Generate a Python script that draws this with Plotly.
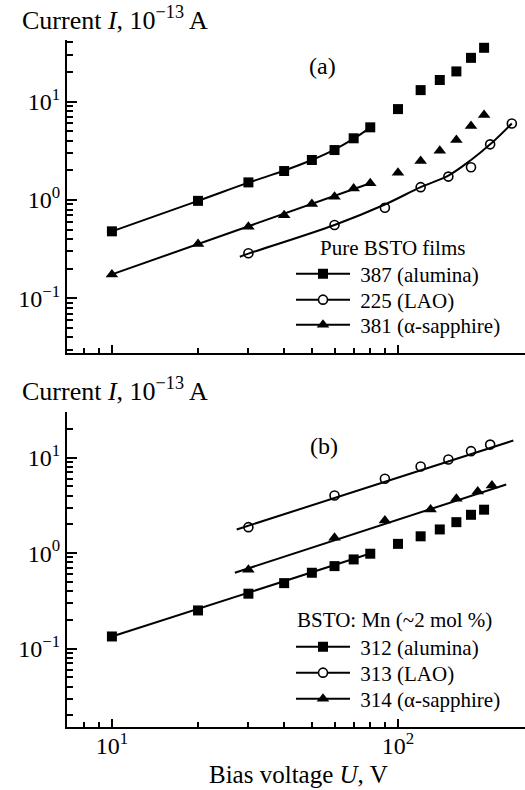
import plotly.graph_objects as go

# ---------------- data ----------------
# (a) pure BSTO films: bias voltage U (V) and current I (1e-13 A)
u_a_387 = [10, 20, 30, 40, 50, 60, 70, 80, 100, 120, 140, 160, 180, 200]
i_a_387 = [0.48, 0.98, 1.51, 1.97, 2.55, 3.22, 4.24, 5.48, 8.4, 13.1, 16.6, 20.3, 27.9, 35.3]
u_a_225 = [30, 60, 90, 120, 150, 180, 210, 250]
i_a_225 = [0.287, 0.557, 0.835, 1.35, 1.73, 2.15, 3.68, 6.0]
u_a_381 = [10, 20, 30, 40, 50, 60, 70, 80, 100, 120, 140, 160, 180, 200]
i_a_381 = [0.175, 0.357, 0.535, 0.70, 0.91, 1.08, 1.31, 1.48, 1.89, 2.49, 3.17, 4.07, 5.65, 7.31]

# fitted curves for (a)
fit_u_a_387 = [10, 20, 30, 40, 50, 60, 70, 80]
fit_i_a_387 = [0.48, 0.98, 1.50, 1.99, 2.55, 3.25, 4.2, 5.45]
fit_u_a_225 = [28, 30, 60, 90, 120, 150, 180, 210, 250]
fit_i_a_225 = [0.265, 0.285, 0.557, 0.9, 1.35, 1.77, 2.55, 3.68, 6.0]
fit_u_a_381 = [10, 80]
fit_i_a_381 = [0.175, 1.48]

# (b) BSTO:Mn films
u_b_312 = [10, 20, 30, 40, 50, 60, 70, 80, 100, 120, 140, 160, 180, 200]
i_b_312 = [0.134, 0.251, 0.376, 0.485, 0.623, 0.731, 0.859, 0.986, 1.25, 1.50, 1.77, 2.11, 2.52, 2.85]
u_b_313 = [30, 60, 90, 120, 150, 180, 210]
i_b_313 = [1.87, 4.02, 6.01, 8.09, 9.57, 11.7, 13.7]
u_b_314 = [30, 60, 90, 130, 160, 190, 213]
i_b_314 = [0.67, 1.45, 2.20, 2.87, 3.71, 4.43, 5.12]

# fitted lines for (b)
fit_u_b_312 = [10, 80]
fit_i_b_312 = [0.134, 0.99]
fit_u_b_313 = [27.3, 253]
fit_i_b_313 = [1.77, 15.1]
fit_u_b_314 = [26.9, 239]
fit_i_b_314 = [0.623, 5.24]

# axis ticks
x_major = [10, 100]
x_major_text = ["10<sup>1</sup>", "10<sup>2</sup>"]
x_minor = [7, 8, 9, 20, 30, 40, 50, 60, 70, 80, 90]
y_major = [0.1, 1, 10]
y_major_text = ["10<sup>−1</sup>", "10<sup>0</sup>", "10<sup>1</sup>"]
y_minor = [m * d for d in (0.01, 0.1, 1, 10) for m in range(2, 10)]

legend_a_title = "Pure BSTO films"
legend_a_names = ["387 (alumina)", "225 (LAO)", "381 (α-sapphire)"]
legend_b_title = "BSTO: Mn (~2 mol %)"
legend_b_names = ["312 (alumina)", "313 (LAO)", "314 (α-sapphire)"]

# ---------------- layout geometry (pixels) ----------------
W, H = 525, 790
L, R, T, B = 67, 0, 40, 63
PW, PH = W - L - R, H - T - B


def px(xp):
    return (xp - L) / PW


def py(yp):
    return (H - B - yp) / PH


FONT = "Liberation Serif"
BLACK = "black"

sq = dict(symbol="square", size=10, color=BLACK, line=dict(width=0))
ci = dict(symbol="circle", size=9, color="white", line=dict(width=1.6, color=BLACK))
tr = dict(symbol="triangle-up", size=11, color=BLACK, line=dict(width=0))
LINE = dict(color=BLACK, width=2)

fig = go.Figure()


def add_panel(xa, ya, legs, series, fits, shapes, names):
    for (u, i), mk in zip(series, (sq, ci, tr)):
        fig.add_trace(go.Scatter(x=u, y=i, mode="markers", marker=mk, xaxis=xa, yaxis=ya,
                                 showlegend=False, cliponaxis=False))
    for (u, i), shape in zip(fits, shapes):
        fig.add_trace(go.Scatter(x=u, y=i, mode="lines", line=dict(LINE, shape=shape),
                                 xaxis=xa, yaxis=ya, showlegend=False, hoverinfo="skip"))
    # legend keys (one small legend per entry); a non-breaking space widens the key gap
    for name, mk, leg in zip(names, (sq, ci, tr), legs):
        fig.add_trace(go.Scatter(x=[None], y=[None], mode="lines+markers",
                                 name="\u00a0" + name, marker=mk, line=LINE,
                                 xaxis=xa, yaxis=ya, legend=leg))


add_panel("x", "y", ["legend", "legend2", "legend3"],
          [(u_a_387, i_a_387), (u_a_225, i_a_225), (u_a_381, i_a_381)],
          [(fit_u_a_387, fit_i_a_387), (fit_u_a_225, fit_i_a_225), (fit_u_a_381, fit_i_a_381)],
          ["spline", "spline", "linear"], legend_a_names)
add_panel("x2", "y2", ["legend4", "legend5", "legend6"],
          [(u_b_312, i_b_312), (u_b_313, i_b_313), (u_b_314, i_b_314)],
          [(fit_u_b_312, fit_i_b_312), (fit_u_b_313, fit_i_b_313), (fit_u_b_314, fit_i_b_314)],
          ["linear", "linear", "linear"], legend_b_names)

X_RANGE = [0.843, 2.444]
axis_common = dict(type="log", showline=True, linewidth=2, linecolor=BLACK, showgrid=False,
                   zeroline=False, ticks="inside", tickwidth=1.5, tickcolor=BLACK,
                   tickmode="array", tickfont=dict(family=FONT, size=24, color=BLACK))

xa = dict(axis_common, range=X_RANGE, tickvals=x_major, ticktext=x_major_text, ticklen=8,
          minor=dict(tickmode="array", tickvals=x_minor, ticks="inside", ticklen=5,
                     tickwidth=1.5, tickcolor=BLACK, showgrid=False))
ya = dict(axis_common, tickvals=y_major, ticktext=y_major_text, ticklen=10,
          minor=dict(tickmode="array", tickvals=y_minor, ticks="inside", ticklen=6,
                     tickwidth=1.5, tickcolor=BLACK, showgrid=False))

top_a, bot_a = 40, 353
top_b, bot_b = 412, 727

LEG_FONT = dict(family=FONT, size=21, color=BLACK)
legend_rows = {"legend": 274, "legend2": 300, "legend3": 325,
               "legend4": 647, "legend5": 673, "legend6": 699}
legends = {k: dict(x=px(291), y=py(v), xanchor="left", yanchor="middle",
                   bgcolor="rgba(0,0,0,0)", itemwidth=54, tracegroupgap=0, font=LEG_FONT)
           for k, v in legend_rows.items()}

fig.update_layout(
    width=W, height=H, margin=dict(l=L, r=R, t=T, b=B, autoexpand=False),
    paper_bgcolor="white", plot_bgcolor="white",
    font=dict(family=FONT, color=BLACK, size=20),
    xaxis=dict(xa, domain=[0, 1], anchor="y", showticklabels=False),
    yaxis=dict(ya, domain=[py(bot_a), py(top_a)], anchor="x", range=[-1.556, 1.627]),
    xaxis2=dict(xa, domain=[0, 1], anchor="y2", showticklabels=True, ticklabelstandoff=-4),
    yaxis2=dict(ya, domain=[py(bot_b), py(top_b)], anchor="x2", range=[-1.821, 1.478]),
    showlegend=True,
    **legends,
)

ann_font = dict(family=FONT, size=26, color=BLACK)
annotations = [
    dict(text="Current <i>I</i>, 10<sup>−13</sup> A", x=px(20), y=py(37),
         xanchor="left", yanchor="bottom", font=ann_font),
    dict(text="Current <i>I</i>, 10<sup>−13</sup> A", x=px(20), y=py(408),
         xanchor="left", yanchor="bottom", font=ann_font),
    dict(text="Bias voltage <i>U</i>, V", x=px(298), y=py(790),
         xanchor="center", yanchor="bottom", font=dict(family=FONT, size=25, color=BLACK)),
    dict(text="(a)", x=px(322), y=py(66), xanchor="center", yanchor="middle",
         font=dict(family=FONT, size=24, color=BLACK)),
    dict(text="(b)", x=px(324), y=py(446), xanchor="center", yanchor="middle",
         font=dict(family=FONT, size=24, color=BLACK)),
    dict(text=legend_a_title, x=px(318), y=py(248), xanchor="left", yanchor="middle",
         font=LEG_FONT),
    dict(text=legend_b_title, x=px(295), y=py(620), xanchor="left", yanchor="middle",
         font=LEG_FONT),
]
for a in annotations:
    a.update(xref="paper", yref="paper", showarrow=False)
fig.update_layout(annotations=annotations)

fig.write_html("out.html")
